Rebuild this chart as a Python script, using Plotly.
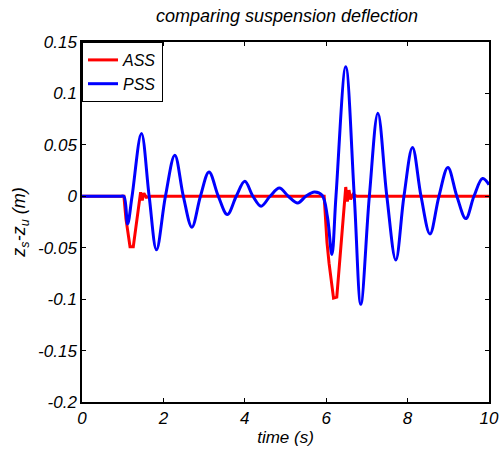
import plotly.graph_objects as go

# PSS (passive) suspension deflection – read at extrema / zero crossings
pss_t = [0, 0.5, 0.95, 1.03, 1.12, 1.23, 1.46, 1.65, 1.83, 2.05, 2.28, 2.49, 2.70, 2.91, 3.12, 3.35,
         3.57, 3.79, 4.00, 4.20, 4.40, 4.62, 4.85, 5.07, 5.30, 5.50, 5.71, 5.90, 6.03,
         6.14, 6.24, 6.48, 6.69, 6.85, 7.06, 7.27, 7.49, 7.71, 7.91, 8.12, 8.33, 8.55,
         8.77, 8.99, 9.21, 9.43, 9.63, 9.84, 10.0]
pss_z = [0, 0, 0, 0, -0.027, 0, 0.061, 0, -0.052, 0, 0.040, 0, -0.030, 0, 0.0236, 0,
         -0.0178, 0, 0.0146, 0, -0.0097, 0, 0.008, 0, -0.0065, 0, 0.0042, 0.001, -0.02,
         -0.0566, 0, 0.126, 0, -0.105, 0, 0.0808, 0, -0.062, 0, 0.0475, 0, -0.0366,
         0, 0.028, 0, -0.0217, 0, 0.0172, 0.0113]

# ASS (active) suspension deflection
ass_t = [0, 1.03, 1.08, 1.12, 1.18, 1.26, 1.36, 1.44, 1.48, 1.52, 1.58, 1.7,
         5.95, 6.02, 6.07, 6.18, 6.26, 6.40, 6.48, 6.52, 6.56, 6.60, 6.66, 6.75, 10.0]
ass_z = [0, 0, -0.022, -0.033, -0.049, -0.049, -0.02, 0.004, -0.004, 0.003, -0.001, 0,
         0, -0.045, -0.065, -0.099, -0.098, -0.03, 0.009, -0.005, 0.006, -0.003, 0.002, 0, 0]

x_ticks = [0, 2, 4, 6, 8, 10]
y_ticks = [0.15, 0.1, 0.05, 0, -0.05, -0.1, -0.15, -0.2]
y_tick_labels = ["0.15", "0.1", "0.05", "0", "-0.05", "-0.1", "-0.15", "-0.2"]

fnt = dict(family="Liberation Sans, Arial, sans-serif", color="black", style="italic")

fig = go.Figure()
fig.add_trace(go.Scatter(x=ass_t, y=ass_z, mode="lines", name="ASS",
                         line=dict(color="#ff0000", width=3)))
fig.add_trace(go.Scatter(x=pss_t, y=pss_z, mode="lines", name="PSS",
                         line=dict(color="#0000ff", width=3, shape="spline", smoothing=1.0)))

fig.update_layout(
    width=502, height=453,
    margin=dict(l=82, r=13, t=42, b=51, autoexpand=False),
    paper_bgcolor="white", plot_bgcolor="white",
    title=dict(text="comparing suspension deflection", x=287 / 502, xanchor="center",
               y=1 - 16 / 453, yanchor="middle", font=dict(size=18, **fnt)),
    legend=dict(x=0, y=1, xanchor="left", yanchor="top", bgcolor="white",
                bordercolor="black", borderwidth=1, font=dict(size=16, **fnt),
                itemwidth=30, tracegroupgap=0),
    showlegend=True,
)
fig.update_xaxes(range=[0, 10], tickvals=x_ticks, ticks="inside", ticklen=4,
                 tickcolor="black", showline=True, linecolor="black", linewidth=1.5,
                 mirror="ticks", showgrid=False, zeroline=False, automargin=False,
                 tickfont=dict(size=17, **fnt),
                 title=dict(text="time (s)", font=dict(size=17, **fnt), standoff=4))
fig.update_yaxes(range=[-0.2, 0.15], tickvals=y_ticks, ticktext=y_tick_labels,
                 ticks="inside", ticklen=4, tickcolor="black", showline=True,
                 linecolor="black", linewidth=1.5, mirror="ticks", showgrid=False,
                 zeroline=False, automargin=False, tickfont=dict(size=17, **fnt),
                 title=dict(text="z<sub>s</sub>-z<sub>u</sub> (m)", font=dict(size=18, **fnt),
                            standoff=8))

fig.write_html("out.html")
